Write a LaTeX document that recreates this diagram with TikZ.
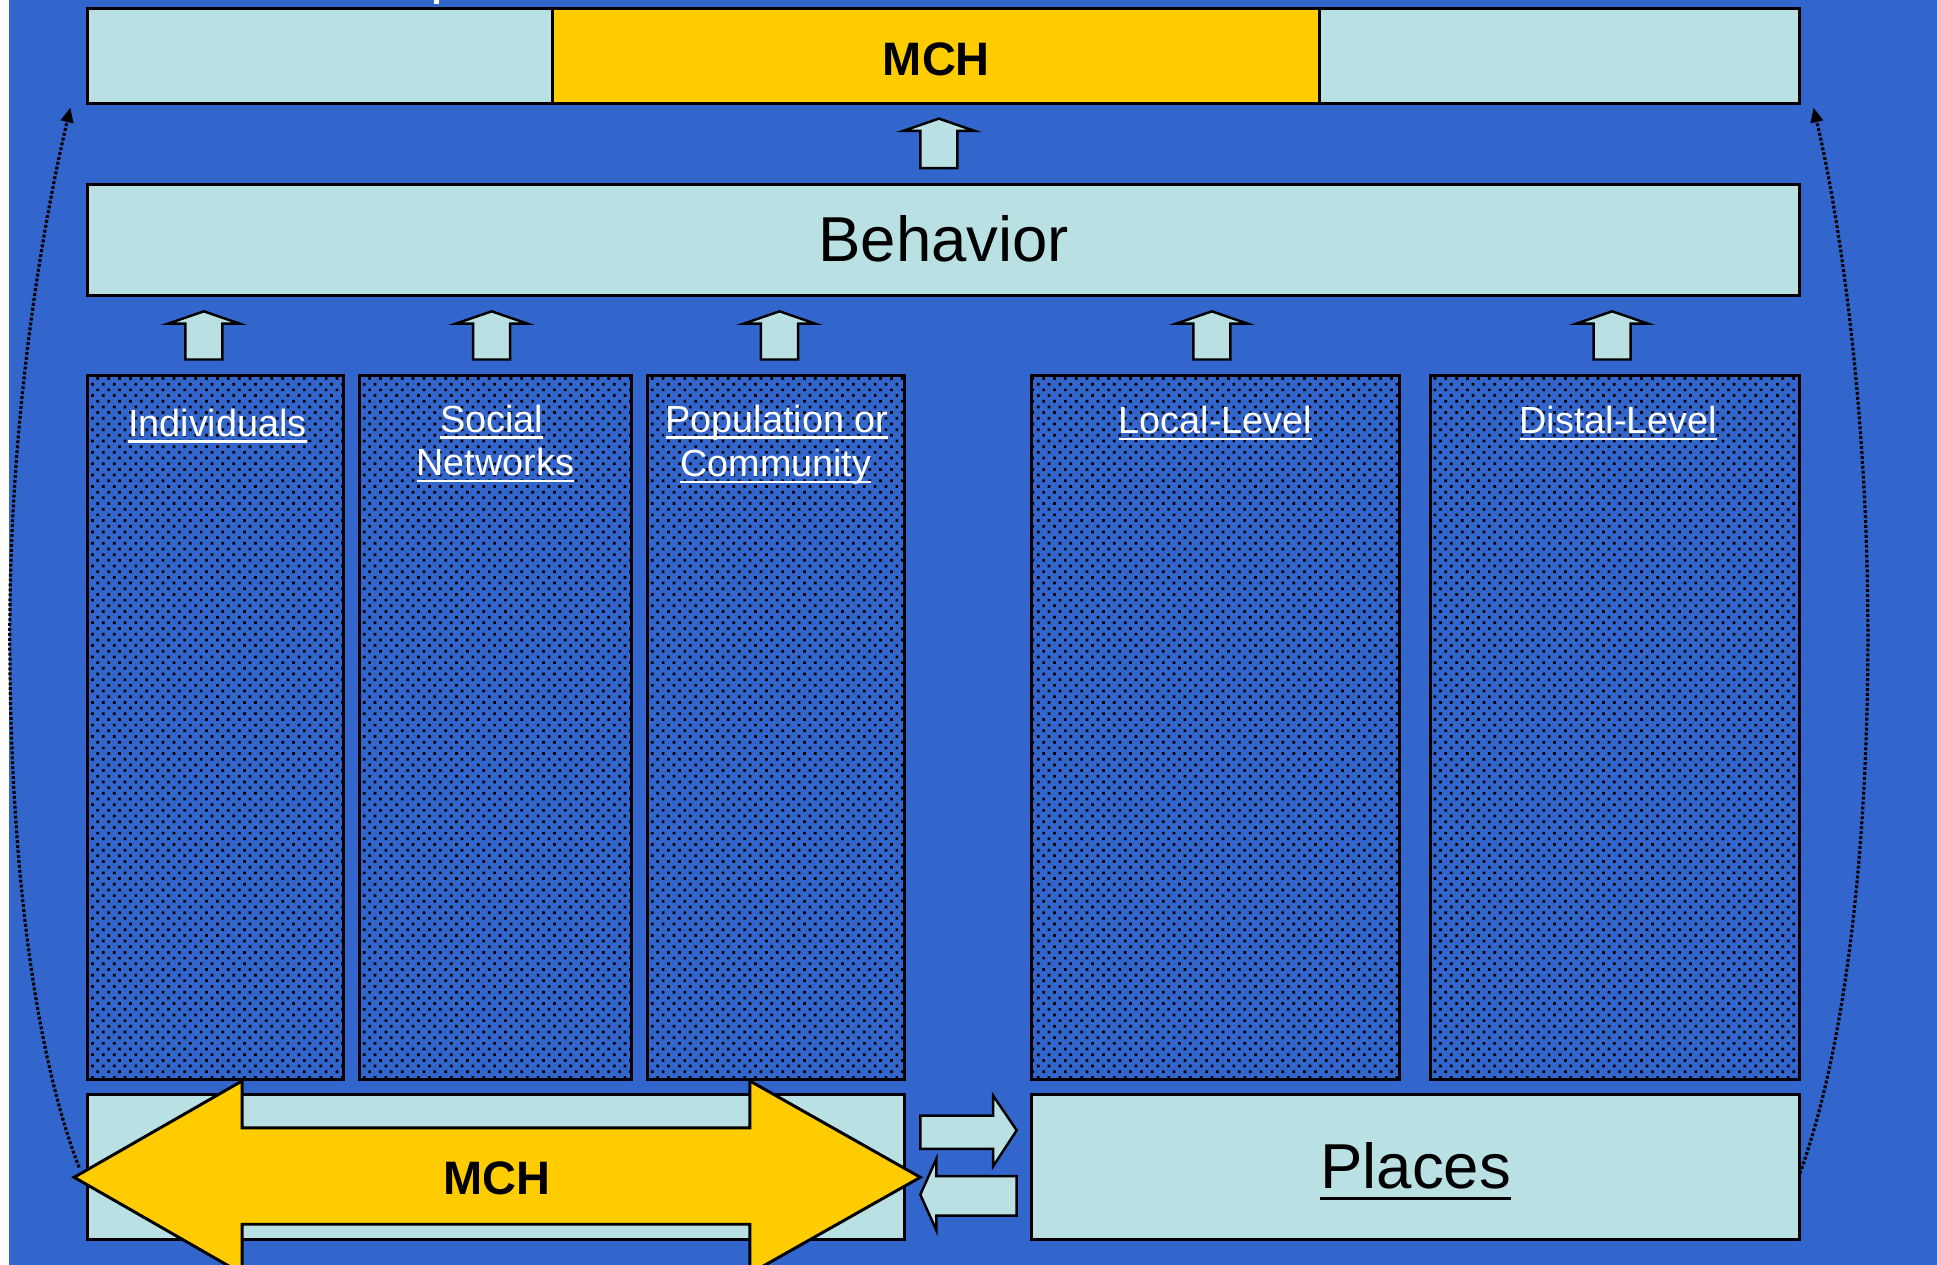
\documentclass[tikz,border=0pt]{standalone}
\usepackage{fontspec}
\setmainfont{Liberation Sans}
\usetikzlibrary{fit,patterns,arrows.meta}
\definecolor{bgblue}{RGB}{51,102,204}
\definecolor{lightc}{RGB}{185,224,226}
\definecolor{mchy}{RGB}{255,204,0}
\pgfdeclarepatternformonly{mydots}{\pgfqpoint{-0.6pt}{-0.6pt}}{\pgfqpoint{3.5pt}{3.5pt}}{\pgfqpoint{4.4pt}{4.6pt}}{%
  \pgfpathrectangle{\pgfqpoint{-0.55pt}{-0.55pt}}{\pgfqpoint{1.1pt}{1.1pt}}%
  \pgfpathrectangle{\pgfqpoint{1.65pt}{1.75pt}}{\pgfqpoint{1.1pt}{1.1pt}}%
  \pgfusepath{fill}}
\newcommand\myul[3]{\leavevmode{\setbox0\hbox{#3}\rlap{\vrule width\wd0 height -#1 depth \dimexpr#1+#2\relax}\box0}}
\newcommand\uparr[3]{%
  \draw[blockarrow] ({#1-15},{#3}) -- ({#1-15},{#2+10}) -- ({#1-29},{#2+10}) -- ({#1},{#2}) -- ({#1+29},{#2+10}) -- ({#1+15},{#2+10}) -- ({#1+15},{#3}) -- cycle;}
\begin{document}
\begin{tikzpicture}[x=0.5pt,y=-0.5pt,
  lbox/.style={draw=black,line width=1.2pt,fill=lightc,inner sep=0pt},
  ybox/.style={lbox,fill=mchy},
  pbox/.style={draw=black,line width=1.2pt,inner sep=0pt,preaction={fill=bgblue},pattern=mydots,pattern color=black},
  lab/.style={text=white,font=\fontsize{15.3}{17.8}\selectfont,inner sep=0pt,anchor=base},
  big/.style={font=\fontsize{25.7}{28}\selectfont,inner sep=0pt,anchor=base},
  mch/.style={font=\bfseries\fontsize{19}{20}\selectfont,inner sep=0pt,anchor=base},
  blockarrow/.style={draw=black,line width=1pt,fill=lightc,line join=miter},
  conn/.style={draw=black,line width=1.3pt,dash pattern=on 1.2pt off 0.8pt,-{Triangle[length=6pt,width=5pt]}}]
\useasboundingbox (0,0) rectangle (1568,1024);
\fill[white] (0,0) rectangle (1568,1024);
\fill[bgblue] (7,0) rectangle (1568,1024);
\fill[white] (351,0) rectangle (355,3);
% top bar
\node[lbox,fit={(71,7)(447,84)}] (topl) {};
\node[ybox,fit={(447,7)(1068,84)}] (topm) {};
\node[lbox,fit={(1068,7)(1457,84)}] (topr) {};
\node[mch] (mchtop) at (758,61) {MCH};
% behavior
\node[lbox,fit={(71,149)(1457,239)}] (beh) {};
\node[big] (behtxt) at (764,212) {Behavior};
% up arrows
\uparr{760}{96}{136}
\uparr{165}{252}{291}
\uparr{398}{252}{291}
\uparr{631}{252}{291}
\uparr{981}{252}{291}
\uparr{1305}{252}{291}
% pattern boxes
\node[pbox,fit={(71,304)(278,874)}] (ind) {};
\node[pbox,fit={(291,304)(511,874)}] (soc) {};
\node[pbox,fit={(524,304)(732,874)}] (pop) {};
\node[pbox,fit={(835,304)(1133,874)}] (loc) {};
\node[pbox,fit={(1158,304)(1457,874)}] (dis) {};
\node[lab] (indt) at (176,353) {\myul{1.6pt}{1pt}{Individuals}};
\node[lab] (soct1) at (398,350) {\myul{1.6pt}{1pt}{Social}};
\node[lab] (soct2) at (401,385) {\myul{1.6pt}{1pt}{Networks}};
\node[lab] (popt1) at (629,350) {\myul{1.6pt}{1pt}{Population or}};
\node[lab] (popt2) at (628,386) {\myul{1.6pt}{1pt}{Community}};
\node[lab] (loct) at (984,351) {\myul{1.6pt}{1pt}{Local-Level}};
\node[lab] (dist) at (1310,351) {\myul{1.6pt}{1pt}{Distal-Level}};
% bottom boxes
\node[lbox,fit={(71,886)(732,1003)}] (botl) {};
\node[lbox,fit={(835,886)(1457,1003)}] (places) {};
\node[big] (plt) at (1146,962) {\myul{3.5pt}{1.2pt}{Places}};
% big double arrow
\draw[draw=black,line width=1.2pt,fill=mchy,line join=miter] (60,953) -- (196,875) -- (196,913) -- (607,913) -- (607,875) -- (745,953) -- (607,1031) -- (607,991) -- (196,991) -- (196,1031) -- cycle;
\node[mch] (mchbot) at (402,967) {MCH};
% small arrows between bottom boxes
\draw[blockarrow] (745,903) -- (804,903) -- (804,887) -- (823,915) -- (804,944) -- (804,930) -- (745,930) -- cycle;
\draw[blockarrow] (823,952) -- (758,952) -- (758,938) -- (745,967) -- (758,996) -- (758,984) -- (823,984) -- cycle;
% dotted feedback curves
\coordinate (ls) at (64,945);
\coordinate (le) at (57,87);
\coordinate (rs) at (1457,950);
\coordinate (re) at (1468,87);
\draw[conn] (ls) .. controls (20,830) and (7,650) .. (8,500) .. controls (9,330) and (35,180) .. (le);
\draw[conn] (rs) .. controls (1500,830) and (1513,650) .. (1512,500) .. controls (1511,330) and (1490,180) .. (re);
\end{tikzpicture}
\end{document}
